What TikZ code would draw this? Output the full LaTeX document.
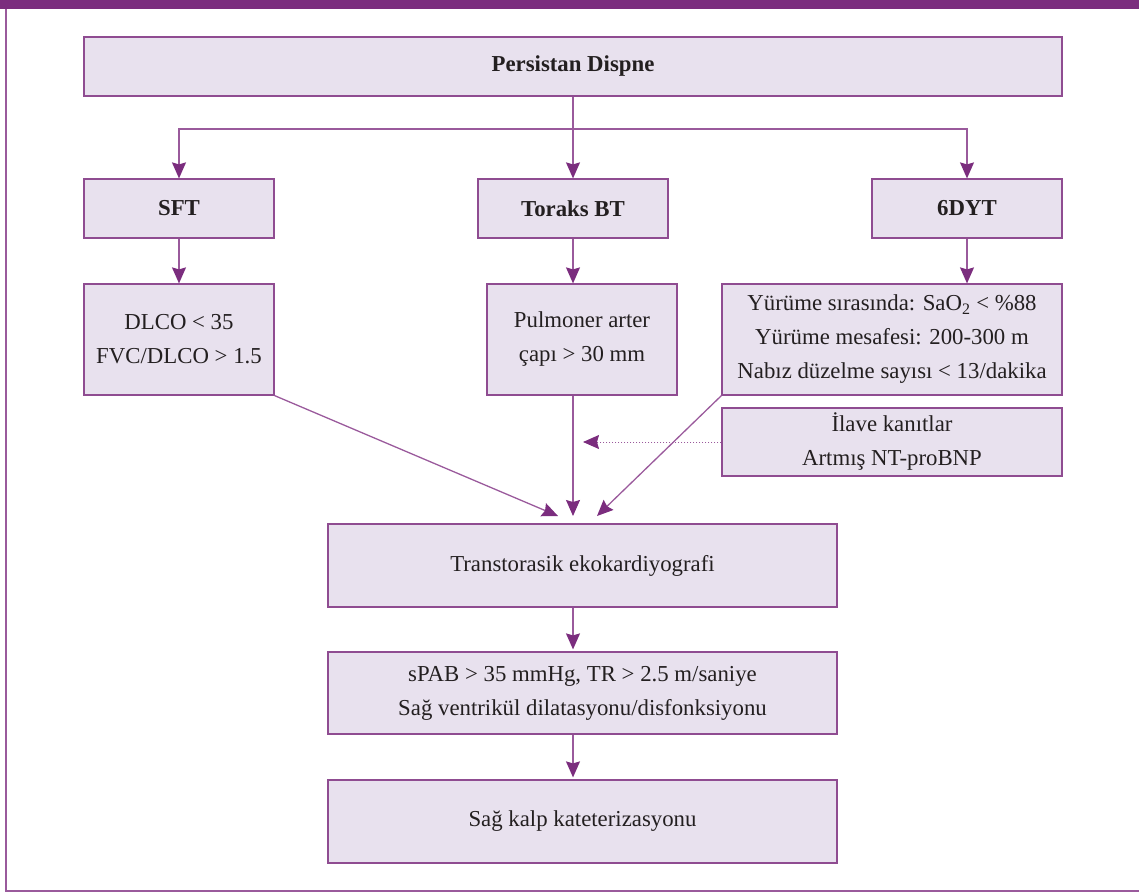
\documentclass[tikz,border=0pt]{standalone}
\usepackage{fontspec}
\setmainfont{Liberation Serif}
\usepackage{xcolor}
\usetikzlibrary{arrows.meta}

\definecolor{mor}{HTML}{7B2D7E}
\definecolor{morcizgi}{HTML}{9A5A9C}
\definecolor{lila}{HTML}{E8E1EE}
\definecolor{yazi}{HTML}{231F20}

\tikzset{
  kutu/.style={draw=mor!85, line width=1.2pt, fill=lila, text=yazi, align=center,
    inner sep=0pt, font=\fontsize{22.8}{34}\selectfont},
  baslik/.style={kutu, font=\fontsize{22.8}{34}\selectfont\bfseries},
  cizgi/.style={draw=morcizgi, line width=1.3pt},
  ok/.style={cizgi, -{Stealth[length=16pt,width=14pt,inset=2pt,color=mor]}},
}

\begin{document}
\begin{tikzpicture}[x=1pt,y=-1pt]

  \useasboundingbox (0,0) rectangle (1139,892);

  % Frame
  \fill[mor] (0,0) rectangle (1139,9);
  \draw[morcizgi, line width=2pt] (6,9) -- (6,891) -- (1139,891);

  % Top box and the three tests
  \node[baslik, minimum width=978pt, minimum height=59pt] (dispne) at (573,66.5) {Persistan Dispne};
  \node[baslik, minimum width=190pt, minimum height=59pt] (sft) at (179,208.5) {SFT};
  \node[baslik, minimum width=190pt, minimum height=59pt] (toraks) at (573,208.5) {Toraks BT};
  \node[baslik, minimum width=190pt, minimum height=59pt] (dyt) at (967,208.5) {6DYT};

  % Findings
  \node[kutu, minimum width=190pt, minimum height=111pt] (dlco) at (179,339.5)
    {DLCO < 35\\ FVC/DLCO > 1.5};
  \node[kutu, minimum width=190pt, minimum height=111pt] (pulmoner) at (582,339.5)
    {Pulmoner arter\\ çapı > 30 mm};
  \node[kutu, minimum width=340pt, minimum height=111pt] (dytdetay) at (892,339.5)
    {Yürüme sırasında: SaO\textsubscript{2} < \%88\\ Yürüme mesafesi: 200-300 m\\ Nabız düzelme sayısı < 13/dakika};
  \node[kutu, minimum width=340pt, minimum height=68pt] (ilave) at (892,442)
    {İlave kanıtlar\\ Artmış NT-proBNP};

  % Lower chain
  \node[kutu, minimum width=509pt, minimum height=83pt] (eko) at (582.5,565.5)
    {Transtorasik ekokardiyografi};
  \node[kutu, minimum width=509pt, minimum height=82pt] (spab) at (582.5,693)
    {sPAB > 35 mmHg, TR > 2.5 m/saniye\\ Sağ ventrikül dilatasyonu/disfonksiyonu};
  \node[kutu, minimum width=509pt, minimum height=83pt] (kateter) at (582.5,821.5)
    {Sağ kalp kateterizasyonu};

  % Branching
  \coordinate (ayrim) at (573,129);
  \draw[cizgi] (dispne.south) -- (ayrim);
  \draw[ok] (ayrim) -| (sft.north);
  \draw[ok] (ayrim) -- (toraks.north);
  \draw[ok] (ayrim) -| (dyt.north);

  \draw[ok] (sft.south) -- (sft.south |- dlco.north);
  \draw[ok] (toraks.south) -- (toraks.south |- pulmoner.north);
  \draw[ok] (dyt.south) -- (dyt.south |- dytdetay.north);

  % Converging on echo
  \coordinate (hedefA) at (558,516);
  \coordinate (hedefB) at (573,516);
  \coordinate (hedefC) at (597,516);
  \coordinate (kanit) at (583,442);
  \draw[ok] (dlco.south east) -- (hedefA);
  \draw[ok] (toraks.south |- pulmoner.south) -- (hedefB);
  \draw[ok] (dytdetay.south west) -- (hedefC);
  \draw[ok, line width=1pt, dotted] (ilave.west) -- (kanit);

  \draw[ok, shorten >=2pt] (toraks.south |- eko.south) -- (toraks.south |- spab.north);
  \draw[ok, shorten >=2pt] (toraks.south |- spab.south) -- (toraks.south |- kateter.north);

\end{tikzpicture}
\end{document}
